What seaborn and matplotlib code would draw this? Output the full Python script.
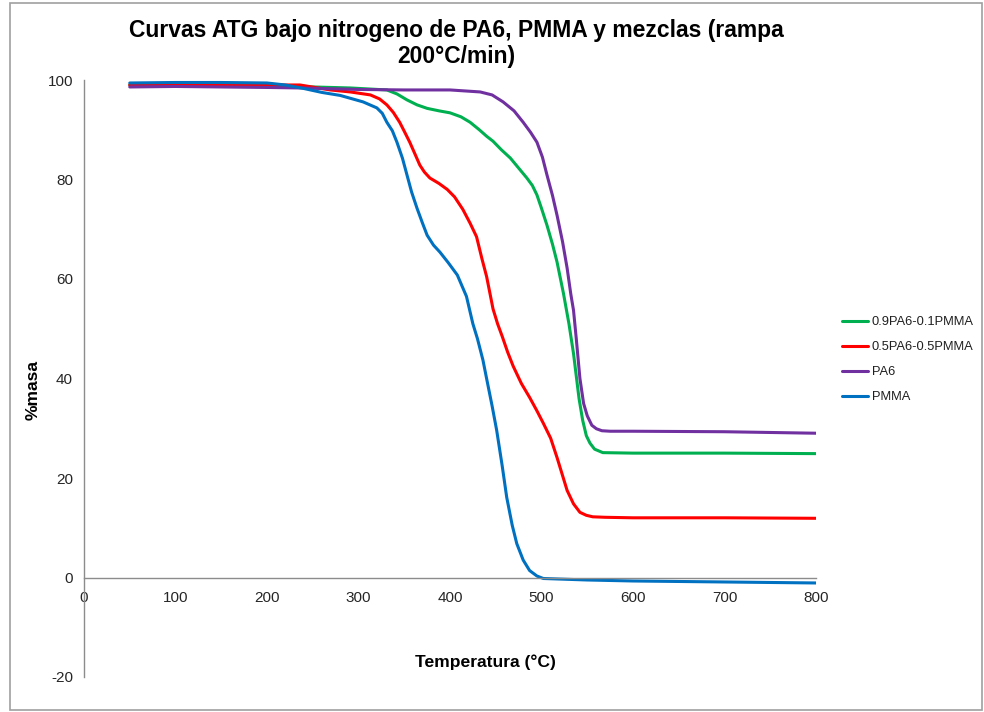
import matplotlib
matplotlib.use("Agg")
import matplotlib.pyplot as plt
import seaborn as sns
import pandas as pd
from matplotlib import font_manager as fm
from matplotlib.patches import Rectangle

# ---- data ----
series_names = ["0.9PA6-0.1PMMA", "0.5PA6-0.5PMMA", "PA6", "PMMA"]
colors = ["#00B050", "#FF0000", "#7030A0", "#0070C0"]

x_mix91 = [50, 100, 150, 200, 250, 291, 331, 342, 353, 364, 375, 388, 400, 412, 422, 432, 440, 447, 456, 466,
           475, 484, 490, 495, 500, 506, 512, 517, 524, 530, 535, 538, 541, 545, 549, 553, 558, 567, 600, 700, 800]
y_mix91 = [99.0, 99.0, 98.9, 98.8, 98.6, 98.4, 98.0, 97.2, 96.0, 95.0, 94.3, 93.8, 93.4, 92.6, 91.5, 90.0, 88.7,
           87.7, 86.0, 84.3, 82.3, 80.3, 78.8, 76.9, 74.2, 70.8, 67.0, 63.4, 57.1, 51.0, 45.0, 40.5, 36.0, 31.6,
           28.5, 27.0, 25.8, 25.1, 25.0, 25.0, 24.9]

x_mix55 = [50, 100, 150, 200, 236, 269, 291, 313, 323, 331, 338, 345, 350, 356, 362, 367, 372, 378, 388, 397,
           405, 414, 422, 429, 435, 440, 444, 447, 452, 457, 463, 469, 478, 487, 495, 502, 510, 517, 523, 528,
           535, 542, 549, 556, 570, 600, 700, 800]
y_mix55 = [99.0, 99.1, 99.1, 99.0, 99.0, 98.0, 97.6, 97.0, 96.2, 95.0, 93.5, 91.5, 89.7, 87.5, 85.0, 82.9, 81.5,
           80.3, 79.2, 78.0, 76.5, 74.0, 71.2, 68.5, 64.0, 60.5, 56.8, 54.0, 51.0, 48.5, 45.3, 42.5, 39.0, 36.2,
           33.5, 31.0, 28.0, 24.1, 20.5, 17.5, 14.8, 13.1, 12.5, 12.2, 12.1, 12.0, 12.0, 11.9]

x_pa6 = [50, 100, 150, 200, 236, 300, 350, 400, 433, 446, 458, 470, 480, 488, 495, 501, 506, 512, 517, 523,
         528, 532, 535, 538, 542, 546, 550, 555, 560, 566, 575, 600, 700, 800]
y_pa6 = [98.6, 98.7, 98.6, 98.5, 98.4, 98.1, 98.0, 98.0, 97.6, 97.0, 95.6, 93.8, 91.5, 89.5, 87.5, 84.5, 80.9,
         76.8, 72.8, 67.5, 62.2, 57.0, 53.7, 48.0, 40.0, 35.0, 32.5, 30.6, 29.9, 29.5, 29.4, 29.4, 29.3, 29.0]

x_pmma = [50, 100, 150, 200, 220, 240, 260, 280, 305, 320, 326, 331, 337, 342, 348, 353, 358, 364, 370, 375,
          382, 389, 398, 408, 418, 425, 430, 436, 440, 446, 451, 457, 462, 468, 473, 480, 487, 495, 502, 550,
          600, 700, 800]
y_pmma = [99.4, 99.5, 99.5, 99.4, 99.0, 98.3, 97.5, 96.9, 95.6, 94.4, 93.3, 91.5, 89.8, 87.5, 84.3, 80.9, 77.5,
          74.2, 71.2, 68.8, 66.8, 65.4, 63.3, 60.8, 56.5, 51.0, 48.0, 43.7, 40.0, 34.5, 29.6, 22.5, 16.1, 10.5,
          6.8, 3.5, 1.4, 0.3, -0.2, -0.5, -0.7, -0.9, -1.1]

x_ticks = [0, 100, 200, 300, 400, 500, 600, 700, 800]
y_ticks = [-20, 0, 20, 40, 60, 80, 100]

title_text = "Curvas ATG bajo nitrogeno de PA6, PMMA y mezclas (rampa\n200°C/min)"
x_label = "Temperatura (°C)"
y_label = "%masa"

# ---- build long-form table ----
frames = []
for name, xs, ys in zip(series_names, [x_mix91, x_mix55, x_pa6, x_pmma], [y_mix91, y_mix55, y_pa6, y_pmma]):
    frames.append(pd.DataFrame({"T": xs, "m": ys, "serie": name}))
df = pd.concat(frames, ignore_index=True)

sns.set_theme(style="white")
avail = {f.name for f in fm.fontManager.ttflist}
narrow = "Liberation Sans Narrow" if "Liberation Sans Narrow" in avail else "Liberation Sans"
plt.rcParams["font.family"] = ["Liberation Sans", "DejaVu Sans"]

fig = plt.figure(figsize=(9.84, 7.12), dpi=100)
ax = fig.add_axes([84 / 984, 1 - 677 / 712, (816 - 84) / 984, (677 - 80) / 712])

sns.lineplot(data=df, x="T", y="m", hue="serie", hue_order=series_names,
             palette=colors, sort=False, linewidth=2.2, ax=ax, estimator=None)

ax.set_xlim(0, 800)
ax.set_ylim(-20, 100)
ax.set_xticks(x_ticks)
ax.set_yticks(y_ticks)
ax.set_xticklabels([str(v) for v in x_ticks], fontsize=8.3, color="#404040")
ax.set_yticklabels([str(v) for v in y_ticks], fontsize=8.3, color="#404040")

spine_c = "#8C8C8C"
for s in ["top", "right"]:
    ax.spines[s].set_visible(False)
ax.spines["left"].set_position(("data", 0))
ax.spines["bottom"].set_position(("data", 0))
ax.spines["left"].set_color(spine_c)
ax.spines["bottom"].set_color(spine_c)
ax.spines["left"].set_linewidth(1.0)
ax.spines["bottom"].set_linewidth(1.0)
ax.tick_params(axis="both", which="major", direction="out", length=4, width=1, color=spine_c, pad=4)
ax.tick_params(axis="x", pad=6)

ax.set_xlabel("")
ax.set_ylabel("")
fig.text(485 / 984, 1 - 662 / 712, x_label, ha="center", va="center", color="black",
         fontsize=12.6, fontfamily=narrow, fontweight="bold")
fig.text(33 / 984, 1 - 390 / 712, y_label, ha="center", va="center", rotation=90, color="black",
         fontsize=12.6, fontfamily=narrow, fontweight="bold")
fig.text(456 / 984, 1 - 43.5 / 712, title_text, ha="center", va="center", fontsize=16.5, color="black",
         fontfamily=narrow, fontweight="bold", linespacing=1.2)

leg = ax.legend(loc="upper left", bbox_to_anchor=(837 / 984, 1 - 311 / 712), bbox_transform=fig.transFigure,
                frameon=False, fontsize=9.3, handlelength=2.0, handletextpad=0.3, labelspacing=1.0,
                borderaxespad=0)
for line in leg.get_lines():
    line.set_linewidth(2.2)
for t in leg.get_texts():
    t.set_color("#202020")

fig.patches.append(Rectangle((10 / 984, 2 / 712), 972 / 984, 707 / 712, transform=fig.transFigure,
                             fill=False, edgecolor="#A0A0A0", linewidth=1.2))

fig.savefig("out.png", dpi=100)
